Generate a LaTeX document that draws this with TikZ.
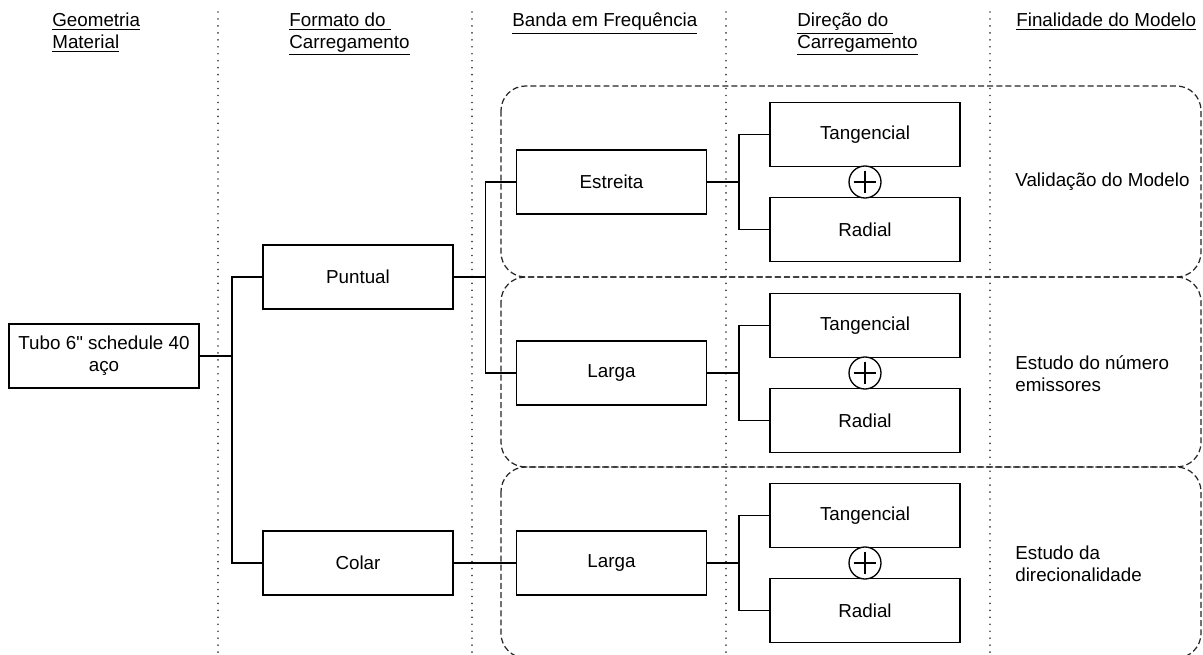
\documentclass[tikz,border=0pt]{standalone}
\usepackage{fontspec}
\setmainfont{Liberation Sans}[Ligatures=TeXOff]
\usetikzlibrary{positioning}
\begin{document}
\begin{tikzpicture}[x=0.02cm,y=-0.02cm,font=\fontsize{10.7}{12.5}\selectfont,
  caixa/.style={draw,line width=1pt,fill=white,minimum width=3.8cm,minimum height=1.28cm,inner sep=2pt,align=center},
  liga/.style={line width=0.75pt},
  coluna/.style={dash pattern=on 0.01pt off 3.95pt,line cap=round,line width=1pt,black!75},
  grupo/.style={dash pattern=on 3.4pt off 1.8pt,line width=0.7pt,black!85,rounded corners=14pt},
  soma/.style={circle,draw,line width=0.75pt,fill=white,minimum size=0.64cm,inner sep=0pt,
    path picture={\draw[line width=0.75pt] ([xshift=2.6pt]path picture bounding box.west) -- ([xshift=-2.6pt]path picture bounding box.east)
      ([yshift=-2.6pt]path picture bounding box.north) -- ([yshift=2.6pt]path picture bounding box.south);}},
  titulo/.style={anchor=north west,inner sep=0pt,align=left},
  fim/.style={anchor=west,inner sep=0pt,align=left}]
\path[fill=white,use as bounding box] (0,0) rectangle (1203,655);
\foreach \a/\b in {86/277,277/467,467/658} \draw[grupo] (501,\a) rectangle (1201,\b);
\foreach \x in {218,472,726,990} \draw[coluna] (\x,12) -- (\x,655);
\node[titulo] (geo) at (52,12.5) {\underline{Geometria}\\\underline{Material}};
\node[titulo] (form) at (289,12.5) {\underline{Formato do\ }\\\underline{Carregamento}};
\node[titulo] (banda) at (512,12.5) {\underline{Banda em Frequência}};
\node[titulo] (dir) at (797,12.5) {\underline{Direção do\ }\\\underline{Carregamento}};
\node[titulo] (final) at (1016,12.5) {\underline{Finalidade do Modelo}};
\node[caixa] (tubo) at (104,356) {Tubo 6" schedule 40\\aço};
\node[caixa] (puntual) at (358,277) {Puntual};
\node[caixa] (colar) at (358,563) {Colar};
\node[caixa] (estreita) at (611.5,182) {Estreita};
\node[caixa] (larga) at (611.5,373) {Larga};
\node[caixa] (larga2) at (611.5,563) {Larga};
\foreach \n/\y in {1/182,2/373,3/563} {
  \node[caixa] (tang\n) at (865,\y-47.5) {Tangencial};
  \node[caixa] (rad\n) at (865,\y+47.5) {Radial};
  \node[soma] (soma\n) at (865,\y) {};
}
\node[fim] (valid) at (1015,182) {Validação do Modelo};
\node[fim] (emis) at (1015,374) {Estudo do número\\emissores};
\node[fim] (direc) at (1015,564) {Estudo da\\direcionalidade};
\draw[liga] (tubo.east) -- ++(32,0) |- (puntual.west);
\draw[liga] (tubo.east) -- ++(32,0) |- (colar.west);
\draw[liga] (puntual.east) -- ++(31.5,0) |- (estreita.west);
\draw[liga] (puntual.east) -- ++(31.5,0) |- (larga.west);
\draw[liga] (colar.east) -- (larga2.west);
\foreach \b/\n in {estreita/1,larga/2,larga2/3} {
  \draw[liga] (\b.east) -- ++(31.5,0) |- (tang\n.west);
  \draw[liga] (\b.east) -- ++(31.5,0) |- (rad\n.west);
}
\end{tikzpicture}
\end{document}
